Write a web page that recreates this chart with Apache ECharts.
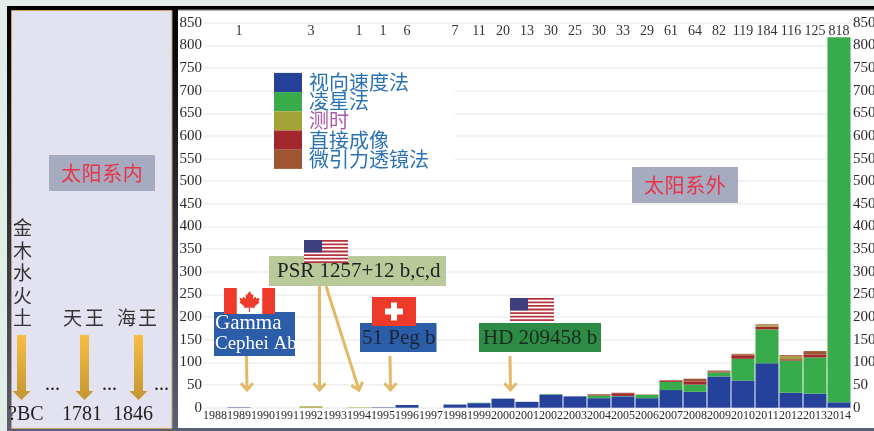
<!DOCTYPE html>
<html><head><meta charset="utf-8">
<style>html,body{margin:0;padding:0;background:#e3ede8}#c{width:874px;height:431px}</style>
<script src="https://cdn.jsdelivr.net/npm/echarts@6/dist/echarts.min.js"></script>
</head><body><div id="c"></div>
<script>
const years = ['1988','1989','1990','1991','1992','1993','1994','1995','1996','1997','1998','1999','2000','2001','2002','2003','2004','2005','2006','2007','2008','2009','2010','2011','2012','2013','2014'];
const totals = ['', '1', '', '', '3', '', '1', '1', '6', '', '7', '11', '20', '13', '30', '25', '30', '33', '29', '61', '64', '82', '119', '184', '116', '125', '818'];
const radialVelocity = [0,1,0,0,0,0,0,1,6,0,7,10,20,13,29,25,21,25,21,39,35,69,60,98,33,31,12];
const transit =        [0,0,0,0,0,0,0,0,0,0,0,1,0,0,1,0,6,1,7,18,16,9,48,75,71,80,806];
const imaging =        [0,0,0,0,0,0,0,0,0,0,0,0,0,0,0,0,2,6,0,3,7,2,8,6,3,6,0];
const timing =         [0,0,0,0,3,0,1,0,0,0,0,0,0,0,0,0,0,0,0,0,0,0,1,3,6,0,0];
const lensing =        [0,0,0,0,0,0,0,0,0,0,0,0,0,0,0,0,1,1,1,1,6,2,2,2,3,8,0];
const yTicks = {min:0, max:850, interval:50};
const methodNames = ['视向速度法','凌星法','测时','直接成像','微引力透镜法'];
const methodColors = ['#264199','#38ab4a','#a3a236','#a2282e','#9f5530'];

const serif = '"Liberation Serif","DejaVu Serif",serif';
const cjk = '"Noto Sans CJK SC",sans-serif';
const G = [];
const rect = (x,y,w,h,fill,z,extra) => G.push({type:'rect',silent:true,z,shape:{x,y,width:w,height:h},style:Object.assign({fill},extra||{})});
const text = (x,y,t,size,fill,z,font,align) => G.push({type:'text',silent:true,z,x,y,style:{text:t,fontSize:size,fill,fontFamily:font||serif,align:align||'left',verticalAlign:'middle'}});
const poly = (pts,fill,z) => G.push({type:'polygon',silent:true,z,shape:{points:pts},style:{fill}});
const grad = (a,b) => ({type:'linear',x:0,y:0,x2:0,y2:1,colorStops:[{offset:0,color:a},{offset:1,color:b}]});

// page, frame and panels
rect(0,0,874,431,'#e3ede8',-20);
rect(7,6,867,425,grad('#000000','#596079'),-19);
rect(11.5,10.5,160.5,418,'#e3e2f0',-18,{stroke:'#c9a05c',lineWidth:1});
rect(178,10,696,418,'#ffffff',-18);
rect(178,9.5,696,1.2,'#9a9a9a',-17);

// left panel
rect(49,155,106,36,'#a6abc0',5);
['太','阳','系','内'].forEach((c,i)=>text(61+i*20.6,173,c,20,'#e8334a',6,cjk));
['金','木','水','火','土'].forEach((c,i)=>text(13,228+i*22.5,c,19,'#333',6,cjk));
text(63,318,'天',19,'#333',6,cjk);text(85,318,'王',19,'#333',6,cjk);
text(117,318,'海',19,'#333',6,cjk);text(138,318,'王',19,'#333',6,cjk);
text(8,415,'?BC',20,'#222',6);text(62,415,'1781',20,'#222',6);text(113,415,'1846',20,'#222',6);
text(45,385,'...',20,'#222',6);text(102,385,'...',20,'#222',6);text(154,385,'...',20,'#222',6);
[21.5,84.5,138.5].forEach(cx=>G.push({type:'polygon',silent:true,z:6,
  shape:{points:[[cx-4.5,335],[cx+4.5,335],[cx+4.5,391],[cx+9,391],[cx,400],[cx-9,391],[cx-4.5,391]]},
  style:{fill:grad('#f6be46','#c4952f')}}));

// small arrows
const arrow = (x1,y1,x2,y2) => {
  const c='#e3b968',a=Math.atan2(y2-y1,x2-x1),L=9,s=0.72;
  G.push({type:'line',silent:true,z:7,shape:{x1,y1,x2:x2,y2:y2},style:{stroke:c,lineWidth:3}});
  G.push({type:'polyline',silent:true,z:7,shape:{points:[
    [x2-L*Math.cos(a-s),y2-L*Math.sin(a-s)],[x2,y2],[x2-L*Math.cos(a+s),y2-L*Math.sin(a+s)]]},
    style:{stroke:c,lineWidth:3,fill:null}});
};
arrow(246.5,356,247,390);
arrow(319.5,286,319.5,390);
arrow(326,286,359,390);
arrow(390,356,390.5,390);
arrow(510,356,510.5,390);

// flags
const usFlag = (x,y,w,h) => {
  rect(x,y,w,h,'#ffffff',8);
  for(let i=0;i<7;i++) rect(x,y+i*2*h/13,w,h/13,'#b5323e',8);
  rect(x,y,w*0.41,h*7/13,'#3d3f7e',8);
};
const chFlag = (x,y,w,h) => {
  rect(x,y,w,h,'#ee3a2a',8);
  rect(x+w/2-9,y+h/2-3,18,6,'#ffffff',9);
  rect(x+w/2-3,y+h/2-9,6,18,'#ffffff',9);
};
const caFlag = (x,y,w,h) => {
  rect(x,y,w,h,'#ffffff',8);
  rect(x,y,w*0.25,h,'#ee3a2a',8);
  rect(x+w*0.75,y,w*0.25,h,'#ee3a2a',8);
  const cx=x+w/2,cy=y+h/2;
  const leaf=[[0,-10],[2.5,-6],[4,-7],[3.5,-2],[6,-4.5],[6.8,-2.5],[10,-3],[9,0.5],[10,1.5],[5,5.5],[5.5,7],[0.6,6.5],[0.6,11],[-0.6,11],[-0.6,6.5],[-5.5,7],[-5,5.5],[-10,1.5],[-9,0.5],[-10,-3],[-6.8,-2.5],[-6,-4.5],[-3.5,-2],[-4,-7],[-2.5,-6]];
  poly(leaf.map(p=>[cx+p[0],cy+p[1]]),'#ee3a2a',9);
};

// labelled boxes
rect(214,312,81,44,'#2b5da8',6);
text(215,323,'Gamma',21,'#ffffff',7);
text(215,344,'Cephei Ab',19,'#ffffff',7);
caFlag(224,288,51,26);
rect(269,256,177,30,'#b9c99a',6);
text(277,271,'PSR 1257+12 b,c,d',21,'#222',7);
usFlag(304,240,44,23);
rect(360,323,76.5,29,'#2b5da8',6);
text(362,338,'51 Peg b',21,'#1a2536',7);
chFlag(372,297,44,29);
rect(479,323,122,29,'#2e8b45',6);
text(483,338,'HD 209458 b',21,'#1a2a20',7);
usFlag(510,298,44,23);

rect(632,167,106,36,'#a6abc0',5);
['太','阳','系','外'].forEach((c,i)=>text(644+i*20.6,185,c,20,'#e8334a',6,cjk));

const barSeries = (name,data,color) => ({
  name,type:'bar',stack:'a',data,barWidth:'96%',xAxisIndex:0,yAxisIndex:0,
  itemStyle:{color},
  emphasis:{disabled:true}
});

const chart = echarts.init(document.getElementById('c'),null,{renderer:'canvas'});
const yAxisBase = {type:'value',min:yTicks.min,max:yTicks.max,interval:yTicks.interval,
  axisLine:{show:false},axisTick:{show:false}};
chart.setOption({
  animation:false,
  backgroundColor:'transparent',
  grid:{left:203,width:648,top:22.7,height:385,outerBoundsMode:'none',containLabel:false},
  legend:{
    left:272,top:69.5,orient:'vertical',icon:'rect',itemWidth:28,itemHeight:19.2,itemGap:-0.8,
    padding:[3,26,3,2],backgroundColor:'#ffffff',selectedMode:false,z:4,
    itemStyle:{borderWidth:0},
    textStyle:{fontFamily:cjk,fontSize:20,lineHeight:19.2,color:'#2a72b5',padding:[0,0,0,2]},
    data:methodNames.map((n,i)=>i===2?{name:n,textStyle:{color:'#a95caa'}}:{name:n})
  },
  xAxis:[
    {type:'category',data:years,position:'bottom',
     axisLine:{show:false},axisTick:{show:false},
     axisLabel:{interval:0,fontFamily:serif,fontSize:12,color:'#2a2a2a',margin:2}},
    {type:'category',data:totals,position:'top',
     axisLine:{show:false},axisTick:{show:false},
     axisLabel:{interval:0,inside:true,fontFamily:serif,fontSize:14,color:'#333',margin:2}}
  ],
  yAxis:[
    Object.assign({},yAxisBase,{position:'left',
      splitLine:{show:true,lineStyle:{color:'#eeeeee',width:1.5}},
      axisLabel:{fontFamily:serif,fontSize:15,color:'#2a2a2a',margin:1}}),
    Object.assign({},yAxisBase,{position:'right',splitLine:{show:false},
      axisLabel:{fontFamily:serif,fontSize:15,color:'#2a2a2a',margin:2}})
  ],
  series:[
    barSeries(methodNames[0],radialVelocity,methodColors[0]),
    barSeries(methodNames[1],transit,methodColors[1]),
    barSeries(methodNames[3],imaging,methodColors[3]),
    barSeries(methodNames[2],timing,methodColors[2]),
    barSeries(methodNames[4],lensing,methodColors[4])
  ],
  graphic:{elements:G}
});
</script></body></html>
